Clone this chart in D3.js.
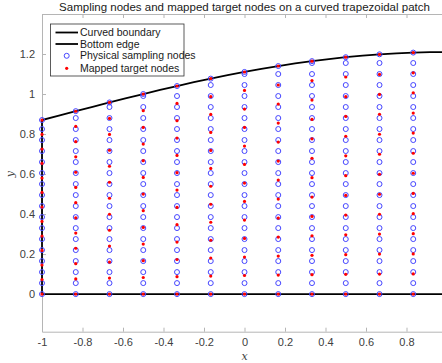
<!DOCTYPE html>
<html>
<head>
<meta charset="utf-8">
<script src="https://cdn.jsdelivr.net/npm/d3@7"></script>
<style>
  body { margin: 0; background: #fff; }
  svg { font-family: "Liberation Sans", Arial, sans-serif; }
</style>
</head>
<body>
<div id="chart"></div>
<script>
// columns of nodes (x) and the boundary height above each column
var colX = [-1, -0.8333, -0.6667, -0.5, -0.3333, -0.1667, 0, 0.1667, 0.3333, 0.5, 0.6667, 0.8333];
var colTop = [0.87, 0.9144, 0.958, 1.0001, 1.04, 1.077, 1.1104, 1.1398, 1.1644, 1.1841, 1.1984, 1.2071];

// curved top boundary
var curveX = [-1, -0.9167, -0.8333, -0.75, -0.6667, -0.5833, -0.5, -0.4167, -0.3333, -0.25, -0.1667, -0.0833, 0,
              0.0833, 0.1667, 0.25, 0.3333, 0.4167, 0.5, 0.5833, 0.6667, 0.75, 0.8333, 0.9167, 1];
var curveY = [0.87, 0.8922, 0.9144, 0.9363, 0.958, 0.9793, 1.0001, 1.0204, 1.04, 1.0589, 1.077, 1.0942, 1.1104,
              1.1256, 1.1398, 1.1527, 1.1644, 1.1749, 1.1841, 1.1919, 1.1984, 1.2035, 1.2071, 1.2093, 1.21];

// physical sampling levels (shared y grid)
var sampleY = [0, 0.055, 0.11, 0.165, 0.22, 0.275, 0.33, 0.385, 0.44, 0.495, 0.55, 0.605, 0.66, 0.715,
               0.77, 0.825, 0.88, 0.935, 0.99, 1.045, 1.1, 1.155, 1.21];

// mapped target nodes, one list per column
var targetY = [
  [0, 0.073, 0.145, 0.218, 0.29, 0.363, 0.435, 0.508, 0.58, 0.653, 0.725, 0.798, 0.87],
  [0, 0.076, 0.152, 0.229, 0.305, 0.381, 0.457, 0.533, 0.609, 0.686, 0.762, 0.838, 0.914],
  [0, 0.08, 0.16, 0.24, 0.319, 0.399, 0.479, 0.559, 0.639, 0.719, 0.798, 0.878, 0.958],
  [0, 0.083, 0.167, 0.25, 0.333, 0.417, 0.5, 0.583, 0.667, 0.75, 0.833, 0.917, 1.0],
  [0, 0.087, 0.173, 0.26, 0.347, 0.433, 0.52, 0.607, 0.693, 0.78, 0.867, 0.953, 1.04],
  [0, 0.09, 0.18, 0.269, 0.359, 0.449, 0.539, 0.628, 0.718, 0.808, 0.898, 0.987, 1.077],
  [0, 0.093, 0.185, 0.278, 0.37, 0.463, 0.555, 0.648, 0.74, 0.833, 0.925, 1.018, 1.11],
  [0, 0.095, 0.19, 0.285, 0.38, 0.475, 0.57, 0.665, 0.76, 0.855, 0.95, 1.045, 1.14],
  [0, 0.097, 0.194, 0.291, 0.388, 0.485, 0.582, 0.679, 0.776, 0.873, 0.97, 1.067, 1.164],
  [0, 0.099, 0.197, 0.296, 0.395, 0.493, 0.592, 0.691, 0.789, 0.888, 0.987, 1.085, 1.184],
  [0, 0.1, 0.2, 0.3, 0.399, 0.499, 0.599, 0.699, 0.799, 0.899, 0.998, 1.098, 1.198],
  [0, 0.101, 0.201, 0.302, 0.402, 0.503, 0.604, 0.704, 0.805, 0.905, 1.006, 1.106, 1.207]
];

var xTicks = [-1, -0.8, -0.6, -0.4, -0.2, 0, 0.2, 0.4, 0.6, 0.8];
var yTicks = [0, 0.2, 0.4, 0.6, 0.8, 1, 1.2];
var legendLabels = ["Curved boundary", "Bottom edge", "Physical sampling nodes", "Mapped target nodes"];

var w = 442, h = 363;
var padL = 42, padR = 447, padT = 14, padB = 331.7;

var svg = d3.select("#chart").append("svg")
    .attr("width", w)
    .attr("height", h);

var xScale = d3.scaleLinear().domain([-1, 1]).range([padL, padR]);
var yScale = d3.scaleLinear().domain([-0.188, 1.4]).range([padB, padT]);

var axisColor = "#b5b5b5", textColor = "#404040";
var fmt = function(d) { return String(d); };

// axes (ticks pointing inward, mirrored like a boxed matlab axes)
var gx = svg.append("g").attr("transform", "translate(0," + padB + ")")
    .call(d3.axisBottom(xScale).tickValues(xTicks).tickSizeInner(-4).tickSizeOuter(0)
        .tickPadding(7).tickFormat(fmt));
var gxTop = svg.append("g").attr("transform", "translate(0," + padT + ")")
    .call(d3.axisTop(xScale).tickValues(xTicks).tickSizeInner(-4).tickSizeOuter(0).tickFormat(""));
var gy = svg.append("g").attr("transform", "translate(" + padL + ",0)")
    .call(d3.axisLeft(yScale).tickValues(yTicks).tickSizeInner(-4).tickSizeOuter(0)
        .tickPadding(7).tickFormat(fmt));
var gyRight = svg.append("g").attr("transform", "translate(" + padR + ",0)")
    .call(d3.axisRight(yScale).tickValues(yTicks).tickSizeInner(-4).tickSizeOuter(0).tickFormat(""));

[gx, gxTop, gy, gyRight].forEach(function(g) {
    g.select(".domain").attr("stroke", axisColor);
    g.selectAll(".tick line").attr("stroke", axisColor);
    g.selectAll(".tick text").attr("fill", textColor).style("font-size", "11px")
        .style("font-family", "'Liberation Sans', Arial, sans-serif");
});

// boundary lines
var line = d3.line()
    .x(function(d) { return xScale(d[0]); })
    .y(function(d) { return yScale(d[1]); });

var boundary = [[-1, 0]].concat(curveX.map(function(x, i) { return [x, curveY[i]]; }));
svg.append("path")
    .attr("d", line(boundary))
    .attr("fill", "none")
    .attr("stroke", "#000")
    .attr("stroke-width", 1.8);

svg.append("path")
    .attr("d", line([[-1, 0], [1, 0]]))
    .attr("fill", "none")
    .attr("stroke", "#000")
    .attr("stroke-width", 1.8);

// physical sampling nodes: grid levels below the boundary plus the boundary point
var samples = [];
colX.forEach(function(x, i) {
    sampleY.forEach(function(y) {
        if (y < colTop[i]) samples.push([x, y]);
    });
    samples.push([x, colTop[i]]);
});

svg.selectAll("circle.sample")
    .data(samples)
    .enter()
    .append("circle")
    .attr("class", "sample")
    .attr("cx", function(d) { return xScale(d[0]); })
    .attr("cy", function(d) { return yScale(d[1]); })
    .attr("r", 2.5)
    .attr("fill", "none")
    .attr("stroke", "#4646ff")
    .attr("stroke-width", 1);

var targets = [];
colX.forEach(function(x, i) {
    targetY[i].forEach(function(y) { targets.push([x, y]); });
});

svg.selectAll("circle.target")
    .data(targets)
    .enter()
    .append("circle")
    .attr("class", "target")
    .attr("cx", function(d) { return xScale(d[0]); })
    .attr("cy", function(d) { return yScale(d[1]); })
    .attr("r", 1.6)
    .attr("fill", "#ff0000");

// title and axis labels
svg.append("text")
    .attr("x", (padL + padR) / 2)
    .attr("y", 10.5)
    .attr("text-anchor", "middle")
    .attr("fill", "#1a1a1a")
    .style("font-size", "11.5px")
    .text("Sampling nodes and mapped target nodes on a curved trapezoidal patch");

svg.append("text")
    .attr("x", (padL + padR) / 2)
    .attr("y", 360)
    .attr("text-anchor", "middle")
    .attr("fill", textColor)
    .style("font-family", "'DejaVu Serif', 'Liberation Serif', serif")
    .style("font-style", "italic")
    .style("font-size", "11px")
    .text("x");

svg.append("text")
    .attr("transform", "translate(14," + yScale(0.6) + ") rotate(-90)")
    .attr("text-anchor", "middle")
    .attr("fill", textColor)
    .style("font-family", "'DejaVu Serif', 'Liberation Serif', serif")
    .style("font-style", "italic")
    .style("font-size", "11px")
    .text("y");

// legend
var legend = svg.append("g").attr("transform", "translate(50.5,24)");
legend.append("rect")
    .attr("width", 133.5)
    .attr("height", 52)
    .attr("fill", "#fff")
    .attr("stroke", "#333")
    .attr("stroke-width", 0.8);

var rowY = [8.5, 20, 31.8, 44.3];
legendLabels.forEach(function(label, i) {
    var row = legend.append("g").attr("transform", "translate(0," + rowY[i] + ")");
    if (i < 2) {
        row.append("line")
            .attr("x1", 5).attr("x2", 27.5)
            .attr("stroke", "#000").attr("stroke-width", 1.8);
    } else if (i === 2) {
        row.append("circle").attr("cx", 16.2).attr("r", 2.5)
            .attr("fill", "none").attr("stroke", "#4646ff");
    } else {
        row.append("circle").attr("cx", 16.2).attr("r", 1.6).attr("fill", "#ff0000");
    }
    row.append("text")
        .attr("x", 29.5)
        .attr("y", 3.5)
        .attr("fill", "#1a1a1a")
        .style("font-size", "10.5px")
        .text(label);
});
</script>
</body>
</html>
